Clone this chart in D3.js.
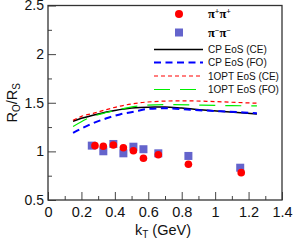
<!DOCTYPE html>
<html>
<head>
<meta charset="utf-8">
<script src="https://cdn.jsdelivr.net/npm/d3@7"></script>
<style>
  body { margin: 0; background: #fff; }
  svg { display: block; font-family: "Liberation Sans", Arial, sans-serif; }
</style>
</head>
<body>
<div id="chart"></div>
<script>
// measured points
let kPlus  = [0.281, 0.331, 0.391, 0.451, 0.511, 0.571, 0.660, 0.840, 1.156]
let rPlus  = [1.059, 1.052, 1.066, 1.038, 1.007, 0.929, 0.966, 0.867, 0.781]
let kMinus = [0.262, 0.331, 0.391, 0.451, 0.511, 0.571, 0.660, 0.840, 1.150]
let rMinus = [1.059, 1.001, 1.076, 0.980, 1.048, 1.022, 0.980, 0.953, 0.832]

// model curves
let kCpCe = [0.15, 0.2, 0.3, 0.4, 0.5, 0.6, 0.7, 0.8, 0.93, 1.09, 1.25]
let rCpCe = [1.31, 1.34, 1.385, 1.42, 1.445, 1.455, 1.456, 1.445, 1.426, 1.405, 1.385]
let kCpFo = [0.15, 0.2, 0.27, 0.35, 0.43, 0.52, 0.6, 0.7, 0.85, 1.0, 1.17, 1.25]
let rCpFo = [1.19, 1.235, 1.29, 1.34, 1.38, 1.41, 1.437, 1.443, 1.428, 1.415, 1.40, 1.392]
let kOptCe = [0.15, 0.2, 0.27, 0.35, 0.43, 0.55, 0.67, 0.8, 0.95, 1.1, 1.25]
let rOptCe = [1.32, 1.36, 1.39, 1.43, 1.465, 1.5, 1.515, 1.52, 1.515, 1.505, 1.495]
let kOptFo = [0.15, 0.23, 0.35, 0.45, 0.51, 0.59, 0.7, 0.85, 1.0, 1.1, 1.25]
let rOptFo = [1.255, 1.333, 1.40, 1.44, 1.46, 1.475, 1.48, 1.478, 1.473, 1.47, 1.468]

let xTicks = [0, 0.2, 0.4, 0.6, 0.8, 1, 1.2, 1.4]
let yTicks = [0.5, 1, 1.5, 2, 2.5]

let width = 293, height = 241
let margin = {top: 5.5, right: 11, bottom: 41, left: 48}

let svg = d3.select("#chart").append("svg")
    .attr("width", width)
    .attr("height", height)

let x = d3.scaleLinear().domain([0, 1.4]).range([margin.left, width - margin.right])
let y = d3.scaleLinear().domain([0.5, 2.5]).range([height - margin.bottom, margin.top])

// minor ticks
svg.append("g")
    .attr("transform", `translate(0,${y(0.5)})`)
    .call(d3.axisBottom(x).tickValues(d3.range(0.1, 1.4, 0.2)).tickSize(-4).tickFormat(""))
    .call(g => g.select(".domain").remove())
svg.append("g")
    .attr("transform", `translate(${x(0)},0)`)
    .call(d3.axisLeft(y).tickValues([0.75, 1.25, 1.75, 2.25]).tickSize(-4).tickFormat(""))
    .call(g => g.select(".domain").remove())

let xAxis = svg.append("g")
    .attr("transform", `translate(0,${y(0.5)})`)
    .call(d3.axisBottom(x).tickValues(xTicks).tickSize(-8).tickPadding(7).tickFormat(d3.format("")))
xAxis.select(".domain").remove()
xAxis.selectAll("text").attr("font-size", 14.5).attr("font-family", "Liberation Sans, Arial").attr("fill", "#111")

let yAxis = svg.append("g")
    .attr("transform", `translate(${x(0)},0)`)
    .call(d3.axisLeft(y).tickValues(yTicks).tickSize(-8).tickPadding(4).tickFormat(d3.format("")))
yAxis.select(".domain").remove()
yAxis.selectAll("text").attr("font-size", 14).attr("font-family", "Liberation Sans, Arial").attr("fill", "#111")
svg.selectAll(".tick line").attr("stroke", "#444")

// frame
svg.append("rect")
    .attr("x", x(0)).attr("y", y(2.5))
    .attr("width", x(1.4) - x(0)).attr("height", y(0.5) - y(2.5))
    .attr("fill", "none").attr("stroke", "#333").attr("stroke-width", 1.3)

let curves = [
  {k: kCpCe, r: rCpCe, color: "#000", w: 1.5, dash: null, name: "CP EoS (CE)"},
  {k: kCpFo, r: rCpFo, color: "#0000ff", w: 2, dash: "7,4.5", name: "CP EoS (FO)"},
  {k: kOptCe, r: rOptCe, color: "#ff0000", w: 1.2, dash: "4,3", name: "1OPT EoS (CE)"},
  {k: kOptFo, r: rOptFo, color: "#00ee00", w: 1.2, dash: "16,10", name: "1OPT EoS (FO)"}
]

let line = d3.line().x(d => x(d[0])).y(d => y(d[1])).curve(d3.curveMonotoneX)

curves.forEach(c => {
  svg.append("path")
      .datum(d3.zip(c.k, c.r))
      .attr("d", line)
      .attr("fill", "none")
      .attr("stroke", c.color)
      .attr("stroke-width", c.w)
      .attr("stroke-dasharray", c.dash)
})

let plus = d3.zip(kPlus, rPlus)
let minus = d3.zip(kMinus, rMinus)

svg.selectAll(".sq")
    .data(minus)
    .enter().append("rect")
    .attr("x", d => x(d[0]) - 4)
    .attr("y", d => y(d[1]) - 4)
    .attr("width", 8).attr("height", 8)
    .attr("fill", "#6464cc")

svg.selectAll(".dot")
    .data(plus)
    .enter().append("circle")
    .attr("cx", d => x(d[0]))
    .attr("cy", d => y(d[1]))
    .attr("r", 3.8)
    .attr("fill", "#ff0000")

// legend
let lg = svg.append("g")
lg.append("circle").attr("cx", 179).attr("cy", 14).attr("r", 4).attr("fill", "#ff0000")
lg.append("rect").attr("x", 175).attr("y", 28.5).attr("width", 8).attr("height", 8).attr("fill", "#6464cc")

let piText = function(yy, sign) {
  let t = lg.append("text").attr("x", 208).attr("y", yy)
      .attr("font-family", "Liberation Serif, Times New Roman, serif").attr("font-size", 12.5)
      .attr("font-weight", "bold")
  t.append("tspan").text("π")
  t.append("tspan").attr("font-size", 8).attr("dy", -4).text(sign)
  t.append("tspan").attr("dy", 4).text("π")
  t.append("tspan").attr("font-size", 8).attr("dy", -4).text(sign)
}
piText(18, "+")
piText(37, "−")

let legY = [49.5, 62.5, 76, 89.5]
curves.forEach((c, i) => {
  lg.append("line")
      .attr("x1", 154).attr("x2", 203)
      .attr("y1", legY[i]).attr("y2", legY[i])
      .attr("stroke", c.color)
      .attr("stroke-width", c.w)
      .attr("stroke-dasharray", c.dash)
  lg.append("text")
      .attr("x", 208).attr("y", legY[i] + 3.5)
      .attr("font-size", 10)
      .attr("fill", "#111")
      .text(c.name)
})

// axis titles
let xt = svg.append("text")
    .attr("x", 163).attr("y", 235)
    .attr("text-anchor", "middle")
    .attr("font-size", 14.5)
    .attr("fill", "#111")
xt.append("tspan").text("k")
xt.append("tspan").attr("font-size", 10).attr("dy", 3).text("T")
xt.append("tspan").attr("dy", -3).text(" (GeV)")

let yt = svg.append("text")
    .attr("transform", `translate(17,${(y(0.5) + y(2.5)) / 2}) rotate(-90)`)
    .attr("text-anchor", "middle")
    .attr("font-size", 14.5)
    .attr("fill", "#111")
yt.append("tspan").text("R")
yt.append("tspan").attr("font-size", 10).attr("dy", 3).text("O")
yt.append("tspan").attr("dy", -3).text("/R")
yt.append("tspan").attr("font-size", 10).attr("dy", 3).text("S")
</script>
</body>
</html>
